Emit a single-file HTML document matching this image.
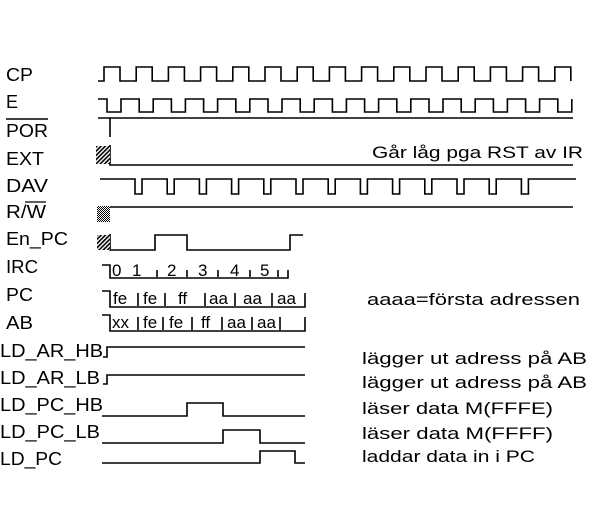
<!DOCTYPE html>
<html><head><meta charset="utf-8"><style>
html,body{margin:0;padding:0;background:#fff}
svg{display:block}
text{font-family:"Liberation Sans",sans-serif;fill:#000}
</style></head><body>
<svg width="600" height="512" viewBox="0 0 600 512" xmlns="http://www.w3.org/2000/svg">
<defs>
<pattern id="h" width="3" height="3" patternUnits="userSpaceOnUse" patternTransform="rotate(45)"><rect width="3" height="3" fill="#fff"/><rect width="1.6" height="3" fill="#000"/></pattern>
<pattern id="c" width="2" height="2" patternUnits="userSpaceOnUse"><rect width="2" height="2" fill="#fff"/><rect width="1" height="1" fill="#000"/><rect x="1" y="1" width="1" height="1" fill="#000"/></pattern>
</defs>
<g font-size="18">
<text x="6" y="81" textLength="27" lengthAdjust="spacingAndGlyphs">CP</text>
<text x="6" y="108">E</text>
<text x="6" y="137" textLength="42" lengthAdjust="spacingAndGlyphs">POR</text>
<text x="6" y="165" textLength="38" lengthAdjust="spacingAndGlyphs">EXT</text>
<text x="6" y="192" textLength="42" lengthAdjust="spacingAndGlyphs">DAV</text>
<text x="6" y="218" textLength="40" lengthAdjust="spacingAndGlyphs">R/W</text>
<text x="6" y="245" textLength="62" lengthAdjust="spacingAndGlyphs">En_PC</text>
<text x="6" y="273" textLength="32" lengthAdjust="spacingAndGlyphs">IRC</text>
<text x="6" y="301" textLength="27" lengthAdjust="spacingAndGlyphs">PC</text>
<text x="6" y="329" textLength="27" lengthAdjust="spacingAndGlyphs">AB</text>
<text x="0" y="357" textLength="103" lengthAdjust="spacingAndGlyphs">LD_AR_HB</text>
<text x="0" y="384" textLength="100" lengthAdjust="spacingAndGlyphs">LD_AR_LB</text>
<text x="0" y="411" textLength="103" lengthAdjust="spacingAndGlyphs">LD_PC_HB</text>
<text x="0" y="438" textLength="100" lengthAdjust="spacingAndGlyphs">LD_PC_LB</text>
<text x="0" y="465" textLength="62" lengthAdjust="spacingAndGlyphs">LD_PC</text>
</g>
<g stroke="#000" stroke-width="1.6" fill="none">
<line x1="6" y1="119" x2="48" y2="119"/>
<line x1="25" y1="202" x2="46" y2="202" stroke-width="1.2"/>
</g>
<g font-size="17">
<text x="372" y="158" textLength="211" lengthAdjust="spacingAndGlyphs">Går låg pga RST av IR</text>
<text x="367" y="305" textLength="213" lengthAdjust="spacingAndGlyphs">aaaa=första adressen</text>
<text x="362" y="364" textLength="225" lengthAdjust="spacingAndGlyphs">lägger ut adress på AB</text>
<text x="362" y="388" textLength="225" lengthAdjust="spacingAndGlyphs">lägger ut adress på AB</text>
<text x="362" y="414" textLength="191" lengthAdjust="spacingAndGlyphs">läser data  M(FFFE)</text>
<text x="362" y="439" textLength="191" lengthAdjust="spacingAndGlyphs">läser data  M(FFFF)</text>
<text x="362" y="462" textLength="173" lengthAdjust="spacingAndGlyphs">laddar data in i PC</text>
</g>
<g stroke="#000" stroke-width="1.6" fill="none" stroke-linejoin="miter">
<path d="M98 81H104v-14h16v14h16.2v-14h16v14h16.2v-14h16v14h16.2v-14h16v14h16.2v-14h16v14h16.2v-14h16v14h16.2v-14h16v14h16.2v-14h16v14h16.2v-14h16v14h16.2v-14h16v14h16.2v-14h16v14h16.2v-14h16v14h16.2v-14h16v14h16.2v-14h16v14h16.2v-14h16v14"/>
<path d="M98 99H107v13h14v-13h18.2v13h14v-13h18.2v13h14v-13h18.2v13h14v-13h18.2v13h14v-13h18.2v13h14v-13h18.2v13h14v-13h18.2v13h14v-13h18.2v13h14v-13h18.2v13h14v-13h18.2v13h14v-13h18.2v13h14v-13h18.2v13h14v-13h18.2v13h14v-13h18.2v13h14v-13"/>
<path d="M98 118H573M110 118V137"/>
<path d="M110 145V165H573"/>
<path d="M100 179H135v15h7v-15h25.2v15h7v-15h25.2v15h7v-15h25.2v15h7v-15h25.2v15h7v-15h25.2v15h7v-15h25.2v15h7v-15h25.2v15h7v-15h25.2v15h7v-15h25.2v15h7v-15h25.2v15h7v-15h25.2v15h7v-15h25.2v15h7v-15H576"/>
<path d="M110 207H573"/>
<path d="M110 234V250H155V235H187V250H290V235H303"/>
<path d="M102 265H110V278H288V270"/>
<path d="M102 291H110V307H305V293"/>
<path d="M102 315H110V331H305V317"/>
<path d="M103 357H107V347H305"/>
<path d="M103 384H107V375H305"/>
<path d="M102 416H187V403H223V416H305"/>
<path d="M102 443H223V430H260V443H305"/>
<path d="M102 463H260V451H295V463H305"/>
<path d="M157 270V277M187 270V277M218 270V277M250 270V277M278 270V277"/>
<path d="M138 293V306M165 293V306M205 293V306M235 293V306M272 293V306"/>
<path d="M138 317V330M163 317V330M192 317V330M222 317V330M252 317V330M280 317V330"/>
</g>
<rect x="96" y="146" width="14" height="18" fill="url(#h)"/>
<rect x="97" y="206" width="13" height="16" fill="url(#c)"/>
<rect x="97" y="235" width="13" height="15" fill="url(#h)"/>
<g font-size="17">
<text x="112" y="276">0</text><text x="132" y="276">1</text><text x="167" y="276">2</text><text x="198" y="276">3</text><text x="230" y="276">4</text><text x="260" y="276">5</text>
<text x="113" y="304">fe</text><text x="143" y="304">fe</text><text x="178" y="304">ff</text><text x="209" y="304">aa</text><text x="243" y="304">aa</text><text x="277" y="304">aa</text>
<text x="112" y="328">xx</text><text x="143" y="328">fe</text><text x="169" y="328">fe</text><text x="201" y="328">ff</text><text x="227" y="328">aa</text><text x="257" y="328">aa</text>
</g>
</svg>
</body></html>
